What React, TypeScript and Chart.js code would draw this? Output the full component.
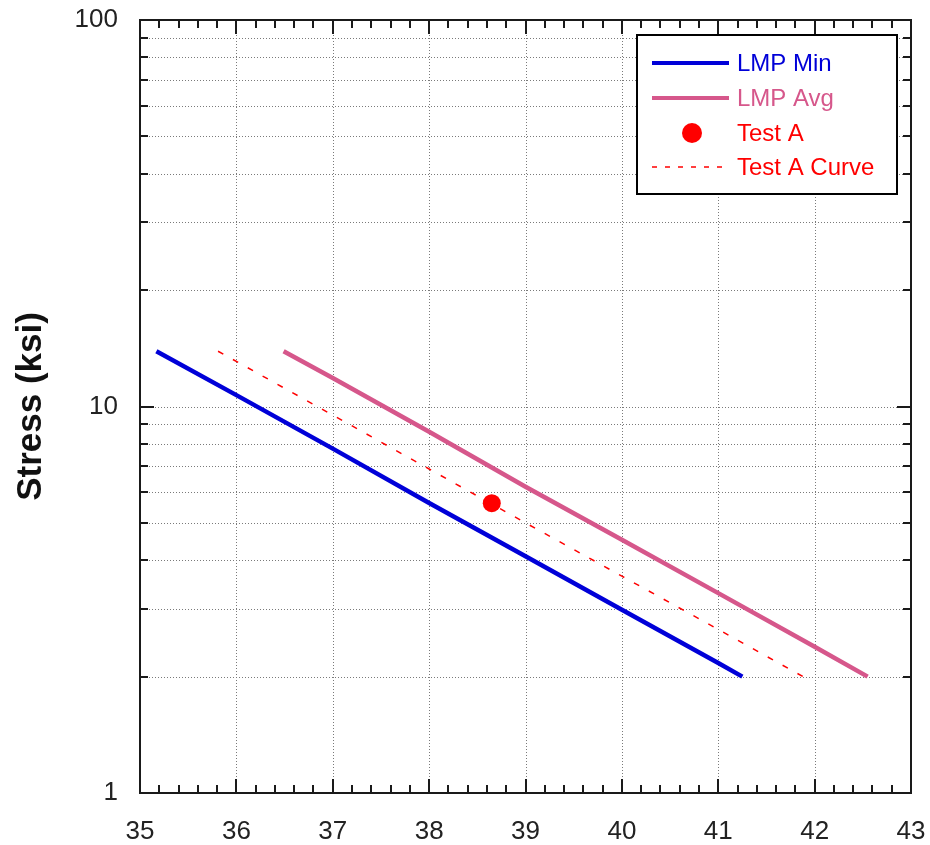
import React, { useEffect, useRef } from "react";
import { Chart, registerables } from "chart.js";

Chart.register(...registerables);

// ---- data ----
const lmpMinX = [35.17, 36, 37, 38, 39, 40, 41, 41.25];
const lmpMinY = [13.9, 10.7, 7.78, 5.63, 4.1, 2.98, 2.17, 2.0];

const lmpAvgX = [36.49, 37, 38, 39, 40, 41, 42, 42.55];
const lmpAvgY = [13.9, 11.85, 8.6, 6.2, 4.52, 3.29, 2.39, 2.0];

const testCurveX = [35.81, 37, 38, 39, 40, 41, 41.88];
const testCurveY = [13.9, 9.5, 6.89, 5.0, 3.64, 2.65, 2.0];

const testAX = [38.65];
const testAY = [5.62];

const xMajorTicks = [35, 36, 37, 38, 39, 40, 41, 42, 43];
const xMinorPerMajor = 5;
const yMajorTicks = [1, 10, 100];
const yMinorMultipliers = [2, 3, 4, 5, 6, 7, 8, 9];

const seriesNames = ["LMP Min", "LMP Avg", "Test A", "Test A Curve"];
const yTitle = "Stress (ksi)";

const BLUE = "#0000d8";
const PINK = "#d6578b";
const RED = "#ff0000";
const AXIS = "#1a1a1a";
const FONT = "'Liberation Sans', Arial, sans-serif";

const toPts = (xs: number[], ys: number[]) => xs.map((x, i) => ({ x, y: ys[i] }));

const yAllTicks: number[] = (() => {
  const out: number[] = [];
  for (let i = 0; i < yMajorTicks.length; i++) {
    out.push(yMajorTicks[i]);
    if (i < yMajorTicks.length - 1) {
      yMinorMultipliers.forEach((m) => out.push(yMajorTicks[i] * m));
    }
  }
  return out;
})();

const decorPlugin = {
  id: "decor",
  beforeDatasetsDraw(chart: any) {
    const { ctx, chartArea: a, scales } = chart;
    const xs = scales.x;
    const ys = scales.y;
    ctx.save();
    ctx.strokeStyle = "#7a7a7a";
    ctx.lineWidth = 1;
    ctx.setLineDash([1, 2]);
    xMajorTicks.slice(1, -1).forEach((v) => {
      const px = Math.round(xs.getPixelForValue(v)) + 0.5;
      ctx.beginPath();
      ctx.moveTo(px, a.top);
      ctx.lineTo(px, a.bottom);
      ctx.stroke();
    });
    yAllTicks.slice(1, -1).forEach((v) => {
      const py = Math.round(ys.getPixelForValue(v)) + 0.5;
      ctx.beginPath();
      ctx.moveTo(a.left, py);
      ctx.lineTo(a.right, py);
      ctx.stroke();
    });
    ctx.restore();
  },
  afterDraw(chart: any) {
    const { ctx, chartArea: a, scales } = chart;
    const xs = scales.x;
    const ys = scales.y;
    ctx.save();
    ctx.setLineDash([]);
    ctx.strokeStyle = AXIS;
    ctx.lineWidth = 2;
    const MAJ = 14;
    const MIN = 8;
    const xTickList: { v: number; len: number }[] = [];
    for (let i = 0; i < xMajorTicks.length; i++) {
      xTickList.push({ v: xMajorTicks[i], len: MAJ });
      if (i < xMajorTicks.length - 1) {
        const step = (xMajorTicks[i + 1] - xMajorTicks[i]) / xMinorPerMajor;
        for (let k = 1; k < xMinorPerMajor; k++) xTickList.push({ v: xMajorTicks[i] + k * step, len: MIN });
      }
    }
    xTickList.forEach(({ v, len }) => {
      const px = Math.round(xs.getPixelForValue(v));
      ctx.beginPath();
      ctx.moveTo(px, a.bottom);
      ctx.lineTo(px, a.bottom - len);
      ctx.moveTo(px, a.top);
      ctx.lineTo(px, a.top + len);
      ctx.stroke();
    });
    yAllTicks.forEach((v) => {
      const len = yMajorTicks.includes(v) ? MAJ : MIN;
      const py = Math.round(ys.getPixelForValue(v));
      ctx.beginPath();
      ctx.moveTo(a.left, py);
      ctx.lineTo(a.left + len, py);
      ctx.moveTo(a.right, py);
      ctx.lineTo(a.right - len, py);
      ctx.stroke();
    });
    ctx.strokeRect(a.left, a.top, a.right - a.left, a.bottom - a.top);

    // y title
    ctx.save();
    ctx.translate(31, (a.top + a.bottom) / 2);
    ctx.rotate(-Math.PI / 2);
    ctx.fillStyle = "#111";
    ctx.font = `bold 35px ${FONT}`;
    ctx.textAlign = "center";
    ctx.textBaseline = "middle";
    ctx.fillText(yTitle, 0, 0);
    ctx.restore();

    // legend
    const L = 637, T = 35, R = 897, B = 194;
    ctx.fillStyle = "#fff";
    ctx.fillRect(L, T, R - L, B - T);
    ctx.lineWidth = 2;
    ctx.strokeStyle = "#000";
    ctx.strokeRect(L, T, R - L, B - T);
    const rows = [63, 98, 133, 167];
    const colors = [BLUE, PINK, RED, RED];
    ctx.font = `24px ${FONT}`;
    ctx.textAlign = "left";
    ctx.textBaseline = "middle";
    rows.forEach((ry, i) => {
      ctx.strokeStyle = colors[i];
      ctx.fillStyle = colors[i];
      if (i < 2) {
        ctx.lineWidth = 4;
        ctx.setLineDash([]);
        ctx.beginPath();
        ctx.moveTo(652, ry);
        ctx.lineTo(729, ry);
        ctx.stroke();
      } else if (i === 2) {
        ctx.beginPath();
        ctx.arc(692, ry, 10, 0, Math.PI * 2);
        ctx.fill();
      } else {
        ctx.lineWidth = 1.5;
        ctx.setLineDash([5, 8]);
        ctx.beginPath();
        ctx.moveTo(652, ry);
        ctx.lineTo(729, ry);
        ctx.stroke();
        ctx.setLineDash([]);
      }
      ctx.fillText(seriesNames[i], 737, ry + 1);
    });
    ctx.restore();
  },
};

export default function App() {
  const ref = useRef<HTMLCanvasElement | null>(null);
  useEffect(() => {
    document.body.style.margin = "0";
    const canvas = ref.current;
    if (!canvas) return;
    const chart = new Chart(canvas, {
      type: "scatter",
      data: {
        datasets: [
          {
            label: seriesNames[0],
            data: toPts(lmpMinX, lmpMinY),
            showLine: true,
            borderColor: BLUE,
            backgroundColor: BLUE,
            borderWidth: 4.5,
            pointRadius: 0,
            tension: 0,
          },
          {
            label: seriesNames[1],
            data: toPts(lmpAvgX, lmpAvgY),
            showLine: true,
            borderColor: PINK,
            backgroundColor: PINK,
            borderWidth: 4.5,
            pointRadius: 0,
            tension: 0,
          },
          {
            label: seriesNames[3],
            data: toPts(testCurveX, testCurveY),
            showLine: true,
            borderColor: RED,
            backgroundColor: RED,
            borderWidth: 1.5,
            borderDash: [6, 11],
            pointRadius: 0,
            tension: 0,
          },
          {
            label: seriesNames[2],
            data: toPts(testAX, testAY),
            showLine: false,
            borderColor: RED,
            backgroundColor: RED,
            pointRadius: 9,
            pointBorderWidth: 0,
          },
        ],
      },
      options: {
        responsive: false,
        animation: false,
        devicePixelRatio: 1,
        layout: { padding: { top: 20, right: 19, left: 0, bottom: 0 } },
        plugins: { legend: { display: false }, tooltip: { enabled: false } },
        scales: {
          x: {
            type: "linear",
            min: xMajorTicks[0],
            max: xMajorTicks[xMajorTicks.length - 1],
            afterBuildTicks: (scale: any) => {
              scale.ticks = xMajorTicks.map((v) => ({ value: v }));
            },
            afterFit: (scale: any) => {
              scale.height = 52;
              scale.paddingLeft = 0;
              scale.paddingRight = 0;
            },
            grid: { display: false, drawTicks: false },
            border: { display: false },
            ticks: {
              padding: 23,
              color: "#222",
              font: { family: FONT, size: 26 },
              maxRotation: 0,
              autoSkip: false,
              callback: (v: any) => String(v),
            },
          },
          y: {
            type: "logarithmic",
            min: yMajorTicks[0],
            max: yMajorTicks[yMajorTicks.length - 1],
            afterBuildTicks: (scale: any) => {
              scale.ticks = yAllTicks.map((v) => ({ value: v, major: yMajorTicks.includes(v) }));
            },
            afterFit: (scale: any) => {
              scale.width = 140;
              scale.paddingTop = 0;
              scale.paddingBottom = 0;
            },
            grid: { display: false, drawTicks: false },
            border: { display: false },
            ticks: {
              padding: 22,
              color: "#222",
              font: { family: FONT, size: 26 },
              autoSkip: false,
              callback: (v: any) => (yMajorTicks.includes(Number(v)) ? String(v) : ""),
            },
          },
        },
      },
      plugins: [decorPlugin],
    } as any);
    return () => chart.destroy();
  }, []);
  return (
    <div style={{ position: "absolute", left: 0, top: 0, width: 930, height: 845, background: "#fff" }}>
      <canvas ref={ref} width={930} height={845} style={{ display: "block", width: 930, height: 845 }} />
    </div>
  );
}
